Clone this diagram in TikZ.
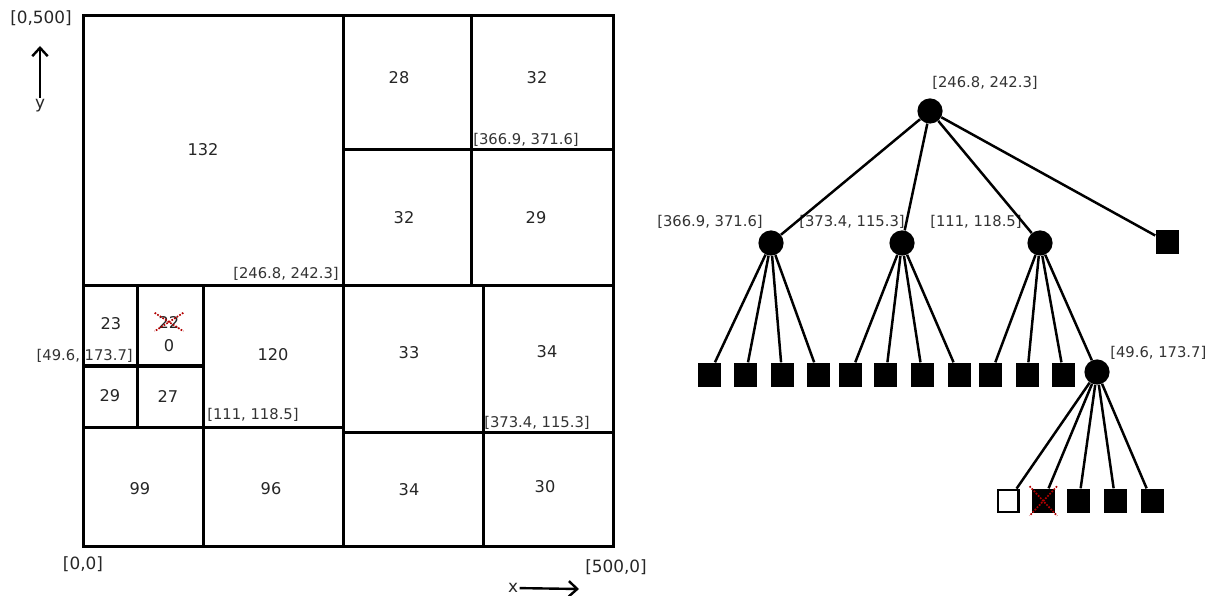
\documentclass[tikz,border=0pt]{standalone}
\usepackage{fontspec}
\setmainfont{DejaVu Sans}
\usepackage{tikz}
\usetikzlibrary{arrows.meta}
\usetikzlibrary{positioning}

\begin{document}
\begin{tikzpicture}[x=0.025cm, y=-0.025cm, >={Straight Barb[length=6pt, width=11pt]},
	wall/.style={line width=0.075cm, line cap=rect},
	edge/.style={line width=0.062cm},
	axis arrow/.style={->, line width=0.06cm},
	cell/.style={font=\fontsize{11.5}{13}\selectfont, text=black!85},
	split label/.style={font=\fontsize{10.5}{12}\selectfont, text=black!80, inner sep=0pt},
	axis/.style={font=\fontsize{12}{14}\selectfont, text=black!85, inner sep=1pt},
	split/.style={circle, fill=black, minimum size=0.63cm, inner sep=0pt},
	leaf/.style={rectangle, fill=black, minimum width=0.575cm, minimum height=0.62cm, inner sep=0pt},
	empty leaf/.style={rectangle, fill=white, draw=black, line width=0.06cm, minimum width=0.515cm, minimum height=0.56cm, inner sep=0pt},
	pruned/.style={red!70!black, densely dotted, line width=1.2pt, shorten <=-2pt, shorten >=-2pt},
]
\useasboundingbox (0, 0) rectangle (1208, 596);
% the plane and its splits
\draw [wall] (83, 16) rectangle (613, 546);
\draw [wall] (343, 16) -- (343, 546);
\draw [wall] (83, 286) -- (613, 286);
\draw [wall] (471, 16) -- (471, 286);
\draw [wall] (343, 150) -- (613, 150);
\draw [wall] (483, 286) -- (483, 546);
\draw [wall] (343, 432) -- (613, 432);
\draw [wall] (203, 286) -- (203, 546);
\draw [wall] (83, 427) -- (343, 427);
\draw [wall] (137, 286) -- (137, 427);
\draw [wall] (83, 366) -- (203, 366);
%
\node [cell] at (203, 150) (c132) {132};
\node [cell] at (399, 78) (c28) {28};
\node [cell] at (537, 78) (c32a) {32};
\node [cell] at (404, 218) (c32b) {32};
\node [cell] at (536, 218) (c29a) {29};
\node [cell] at (111, 324) (c23) {23};
\node [cell, inner sep=1pt] at (169, 322) (c22) {22};
\node [cell] at (169, 346) (c0) {0};
\node [cell] at (110, 396) (c29b) {29};
\node [cell] at (168, 396) (c27) {27};
\node [cell] at (273, 355) (c120) {120};
\node [cell] at (140, 489) (c99) {99};
\node [cell] at (271, 489) (c96) {96};
\node [cell] at (409, 353) (c33) {33};
\node [cell] at (547, 352) (c34a) {34};
\node [cell] at (409, 490) (c34b) {34};
\node [cell] at (545, 487) (c30) {30};
\draw [pruned] (c22.north west) -- (c22.south east);
\draw [pruned] (c22.north east) -- (c22.south west);
%
\node [split label, anchor=east] at (339, 274) (p1) {[246.8, 242.3]};
\node [split label, anchor=west] at (473, 140) (p2) {[366.9, 371.6]};
\node [split label, anchor=east] at (133, 356) (p3) {[49.6, 173.7]};
\node [split label, anchor=west] at (207, 415) (p4) {[111, 118.5]};
\node [split label, anchor=west] at (484, 423) (p5) {[373.4, 115.3]};
%
\node [axis] at (41, 18) (top) {[0,500]};
\node [axis] at (83, 564) (origin) {[0,0]};
\node [axis] at (616, 567) (right) {[500,0]};
\node [axis] at (40, 106) (ylbl) {y};
\coordinate (ytip) at (40, 46);
\node [axis] at (513, 588) (xlbl) {x};
\coordinate (xtip) at (579, 589);
\draw [axis arrow] (ylbl) -- (ytip);
\draw [axis arrow] (xlbl) -- (xtip);
% the tree
\node [split] at (930, 111) (root) {};
\node [split] at (771, 243) (ne) {};
\node [split] at (902, 243) (se) {};
\node [split] at (1040, 243) (sw) {};
\node [leaf] at (1167, 242) (nw) {};
\node [split] at (1097, 372) (swnw) {};
\node [split label, anchor=west] at (932, 83) (rootlbl) {[246.8, 242.3]};
\node [split label, anchor=east] at (763, 222) (nelbl) {[366.9, 371.6]};
\node [split label, anchor=west] at (799, 222) (selbl) {[373.4, 115.3]};
\node [split label, anchor=west] at (930, 222) (swlbl) {[111, 118.5]};
\node [split label, anchor=west] at (1110, 353) (swnwlbl) {[49.6, 173.7]};
%
\node [leaf] at (709, 375) (ne1) {};
\node [leaf] (ne2) [right=0.325cm of ne1] {};
\node [leaf] (ne3) [right=0.325cm of ne2] {};
\node [leaf] (ne4) [right=0.325cm of ne3] {};
\node [leaf] (se1) [right=0.2cm of ne4] {};
\node [leaf] (se2) [right=0.3cm of se1] {};
\node [leaf] (se3) [right=0.325cm of se2] {};
\node [leaf] (se4) [right=0.325cm of se3] {};
\node [leaf] (sw1) [right=0.2cm of se4] {};
\node [leaf] (sw2) [right=0.325cm of sw1] {};
\node [leaf] (sw3) [right=0.325cm of sw2] {};
%
\node [empty leaf] at (1008, 501) (d1) {};
\node [leaf] (d2) [right=0.3cm of d1] {};
\node [leaf] (d3) [right=0.3cm of d2] {};
\node [leaf] (d4) [right=0.325cm of d3] {};
\node [leaf] (d5) [right=0.325cm of d4] {};
\draw [pruned] (d2.north west) -- (d2.south east);
\draw [pruned] (d2.north east) -- (d2.south west);
%
\draw [edge] (root) -- (ne);
\draw [edge] (root) -- (se);
\draw [edge] (root) -- (sw);
\draw [edge] (root) -- (nw);
\draw [edge] (ne) -- (ne1);
\draw [edge] (ne) -- (ne2);
\draw [edge] (ne) -- (ne3);
\draw [edge] (ne) -- (ne4);
\draw [edge] (se) -- (se1);
\draw [edge] (se) -- (se2);
\draw [edge] (se) -- (se3);
\draw [edge] (se) -- (se4);
\draw [edge] (sw) -- (sw1);
\draw [edge] (sw) -- (sw2);
\draw [edge] (sw) -- (sw3);
\draw [edge] (sw) -- (swnw);
\draw [edge] (swnw) -- (d1);
\draw [edge] (swnw) -- (d2);
\draw [edge] (swnw) -- (d3);
\draw [edge] (swnw) -- (d4);
\draw [edge] (swnw) -- (d5);
\end{tikzpicture}
\end{document}
